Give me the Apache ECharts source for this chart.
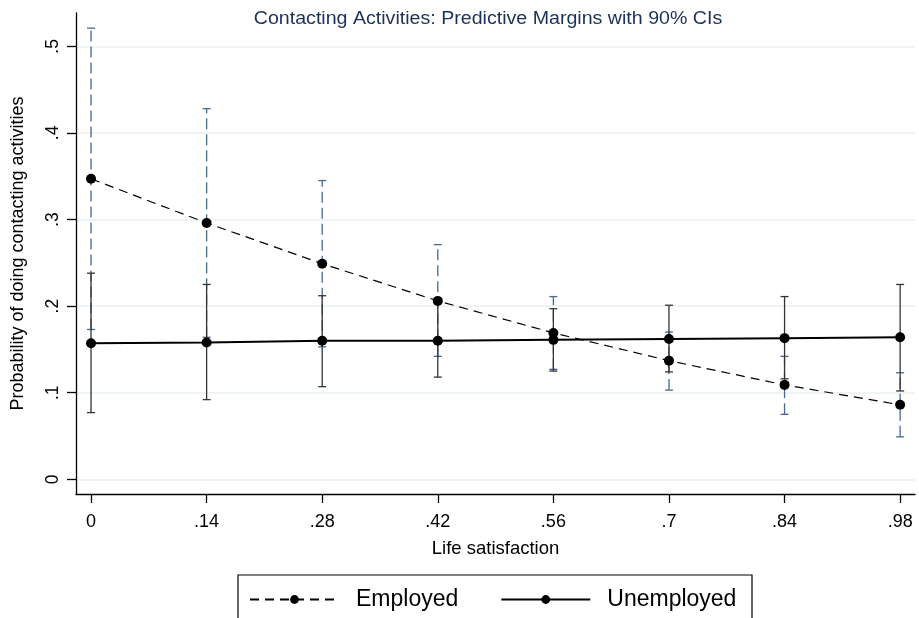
<!DOCTYPE html>
<html>
<head>
<meta charset="utf-8">
<script src="https://cdn.jsdelivr.net/npm/echarts@6/dist/echarts.min.js"></script>
<style>
html,body{margin:0;padding:0;background:#fff;}
#chart{width:919px;height:618px;}
</style>
</head>
<body>
<div id="chart"></div>
<script>
// ---- data ----
var xValues = [0, 0.14, 0.28, 0.42, 0.56, 0.70, 0.84, 0.98];
var xTickLabels = ['0', '.14', '.28', '.42', '.56', '.7', '.84', '.98'];
var yTickValues = [0, 0.1, 0.2, 0.3, 0.4, 0.5];
var yTickLabels = ['0', '.1', '.2', '.3', '.4', '.5'];

var employed   = [0.347, 0.296, 0.249, 0.206, 0.169, 0.137, 0.109, 0.086];
var employedLo = [0.173, 0.164, 0.153, 0.142, 0.127, 0.103, 0.075, 0.049];
var employedHi = [0.521, 0.428, 0.345, 0.271, 0.211, 0.170, 0.142, 0.123];

var unemployed   = [0.157, 0.158, 0.160, 0.160, 0.161, 0.162, 0.163, 0.164];
var unemployedLo = [0.077, 0.092, 0.107, 0.118, 0.125, 0.124, 0.116, 0.102];
var unemployedHi = [0.238, 0.225, 0.212, 0.203, 0.197, 0.201, 0.211, 0.225];

var titleText = 'Contacting Activities: Predictive Margins with 90% CIs';

var FONT = '"Liberation Sans", Arial, Helvetica, sans-serif';

function pairs(xs, ys) { return xs.map(function (x, i) { return [x, ys[i]]; }); }
function triples(xs, lo, hi) { return xs.map(function (x, i) { return [x, lo[i], hi[i]]; }); }

function ciRenderer(color, dashed) {
  return function (params, api) {
    var x = api.value(0);
    var p1 = api.coord([x, api.value(1)]);
    var p2 = api.coord([x, api.value(2)]);
    var hw = 4;
    var st = { stroke: color, lineWidth: 1.3 };
    var lineSt = { stroke: color, lineWidth: 1.3, lineDash: dashed ? [11, 5] : null };
    return {
      type: 'group',
      children: [
        { type: 'line', shape: { x1: p1[0], y1: p1[1], x2: p2[0], y2: p2[1] }, style: lineSt },
        { type: 'line', shape: { x1: p1[0] - hw, y1: p1[1], x2: p1[0] + hw, y2: p1[1] }, style: st },
        { type: 'line', shape: { x1: p2[0] - hw, y1: p2[1], x2: p2[0] + hw, y2: p2[1] }, style: st }
      ]
    };
  };
}

function fmtX(v) {
  var i = xValues.findIndex(function (t) { return Math.abs(t - v) < 1e-6; });
  return i >= 0 ? xTickLabels[i] : '';
}
function fmtY(v) {
  var i = yTickValues.findIndex(function (t) { return Math.abs(t - v) < 1e-6; });
  return i >= 0 ? yTickLabels[i] : '';
}

var chart = echarts.init(document.getElementById('chart'), null, { renderer: 'canvas' });
chart.setOption({
  backgroundColor: '#ffffff',
  animation: false,
  textStyle: { fontFamily: FONT },
  grid: { left: 76, right: 4, top: 13, bottom: 124, containLabel: false },
  xAxis: {
    type: 'value', min: -0.0182, max: 0.998,
    name: 'Life satisfaction', nameLocation: 'middle', nameGap: 45,
    nameTextStyle: { fontFamily: FONT, fontSize: 18.5, color: '#000' },
    axisLine: { show: true, onZero: false, lineStyle: { color: '#000', width: 1.3 } },
    axisTick: { show: true, length: 9, customValues: xValues, lineStyle: { color: '#000', width: 1.3 } },
    axisLabel: { customValues: xValues, formatter: fmtX, fontFamily: FONT, fontSize: 18, color: '#000', margin: 19 },
    splitLine: { show: false }
  },
  yAxis: {
    type: 'value', min: -0.017, max: 0.5385,
    name: 'Probability of doing contacting activities', nameLocation: 'middle', nameGap: 49,
    nameTextStyle: { fontFamily: FONT, fontSize: 18, color: '#000' },
    axisLine: { show: true, onZero: false, lineStyle: { color: '#000', width: 1.3 } },
    axisTick: { show: true, length: 9, customValues: yTickValues, lineStyle: { color: '#000', width: 1.3 } },
    axisLabel: { customValues: yTickValues, formatter: fmtY, rotate: 90, fontFamily: FONT, fontSize: 17.5, color: '#000', margin: 14 },
    splitLine: { show: true, lineStyle: { color: '#e9f0f3', width: 1.5 } }
  },
  legend: {
    left: 249, top: 588, padding: 0,
    itemWidth: 89, itemHeight: 11, itemGap: 42,
    textStyle: { fontFamily: FONT, fontSize: 23, color: '#000', padding: [0, 0, 0, 12] },
    data: ['Employed', 'Unemployed']
  },
  graphic: [
    { type: 'rect', shape: { x: 238, y: 575, width: 514, height: 60 }, style: { fill: null, stroke: '#000', lineWidth: 1.2 }, silent: true, z: 0 },
    { type: 'text', x: 488, y: 19, scaleX: 1.12, silent: true, z: 10,
      style: { text: titleText, fontFamily: FONT, fontSize: 17.5, fill: '#1c3158', textAlign: 'center', textVerticalAlign: 'middle' } }
  ],
  series: [
    {
      name: 'Employed CI', type: 'custom', renderItem: ciRenderer('#45698f', true),
      data: triples(xValues, employedLo, employedHi), z: 2, silent: true
    },
    {
      name: 'Unemployed CI', type: 'custom', renderItem: ciRenderer('#333333', false),
      data: triples(xValues, unemployedLo, unemployedHi), z: 3, silent: true
    },
    {
      name: 'Employed', type: 'line', data: pairs(xValues, employed),
      symbol: 'circle', symbolSize: 10,
      itemStyle: { color: '#000' },
      lineStyle: { color: '#000', width: 1.2, type: [9, 6] }, z: 4
    },
    {
      name: 'Unemployed', type: 'line', data: pairs(xValues, unemployed),
      symbol: 'circle', symbolSize: 10,
      itemStyle: { color: '#000' },
      lineStyle: { color: '#000', width: 2 }, z: 5
    }
  ]
});
</script>
</body>
</html>
